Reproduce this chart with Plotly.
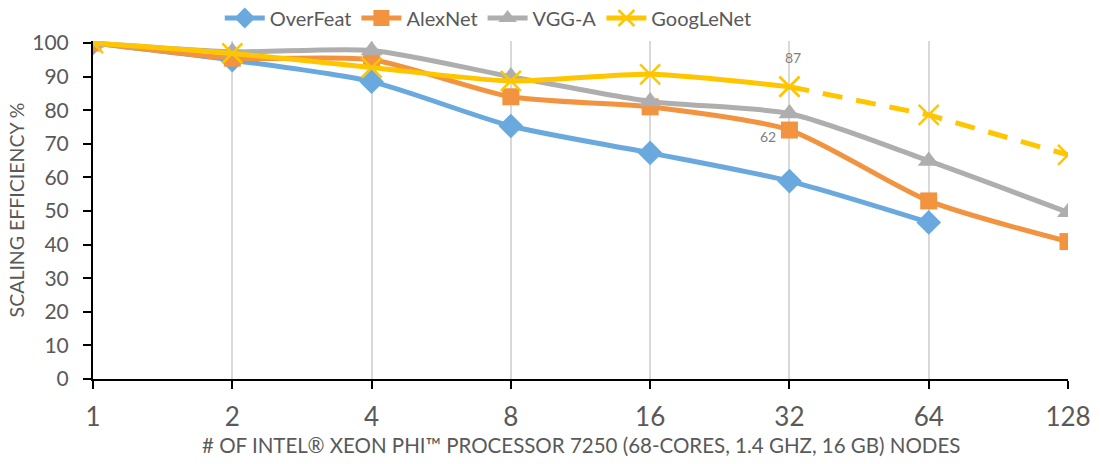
import plotly.graph_objects as go

# Node counts (categorical x axis)
nodes = ["1", "2", "4", "8", "16", "32", "64", "128"]

# Scaling efficiency (%) per network
overfeat = [100, 94.9, 88.5, 75.3, 67.3, 58.9, 46.6]
alexnet = [100, 95.5, 95.0, 84.0, 81.0, 74.1, 53.0, 40.9]
vgg_a = [100, 97.4, 97.8, 90.0, 82.6, 79.0, 64.9, 49.6]
googlenet = [100, 96.9, 92.7, 88.7, 90.7, 87.0, 78.6, 66.7]

# GoogLeNet is measured up to 32 nodes, projected beyond
measured_upto = 6  # index after "32"

# Stray data labels shown on the chart
label_googlenet_32 = "87"
label_alexnet_32 = "62"

x_title = "# OF INTEL® XEON PHI™ PROCESSOR 7250 (68-CORES, 1.4 GHZ, 16 GB) NODES"
y_title = "SCALING EFFICIENCY %"

c_blue = "#6AA9DD"
c_orange = "#F29340"
c_gray = "#AEAEAE"
c_yellow = "#FFC600"
font_family = "Lato, 'Open Sans', sans-serif"
txt = "#595959"

LW = 5
fig = go.Figure()

fig.add_trace(go.Scatter(
    x=nodes[:len(overfeat)], y=overfeat, name="OverFeat", mode="lines+markers",
    line=dict(color=c_blue, width=LW, shape="spline", smoothing=0.7),
    marker=dict(symbol="diamond", size=19, color=c_blue)))

fig.add_trace(go.Scatter(
    x=nodes, y=alexnet, name="AlexNet", mode="lines+markers",
    line=dict(color=c_orange, width=LW, shape="spline", smoothing=0.7),
    marker=dict(symbol="square", size=17, color=c_orange)))

fig.add_trace(go.Scatter(
    x=nodes, y=vgg_a, name="VGG-A", mode="lines+markers",
    line=dict(color=c_gray, width=LW, shape="spline", smoothing=0.7),
    marker=dict(symbol="triangle-up", size=19, color=c_gray)))

fig.add_trace(go.Scatter(
    x=nodes[:measured_upto], y=googlenet[:measured_upto], name="GoogLeNet",
    mode="lines+markers",
    line=dict(color=c_yellow, width=LW, shape="spline", smoothing=0.7),
    marker=dict(symbol="x-thin-open", size=20, color=c_yellow,
                line=dict(color=c_yellow, width=2.5))))

fig.add_trace(go.Scatter(
    x=nodes[measured_upto - 1:], y=googlenet[measured_upto - 1:], name="GoogLeNet",
    mode="lines+markers", showlegend=False,
    line=dict(color=c_yellow, width=LW, dash="20px,14px"),
    marker=dict(symbol="x-thin-open", size=20, color=c_yellow,
                line=dict(color=c_yellow, width=2.5))))

idx32 = nodes.index("32")
fig.add_annotation(x=idx32, y=googlenet[idx32], text=label_googlenet_32, showarrow=False,
                   xshift=4, yshift=29, font=dict(size=14, color="#7F7F7F", family=font_family))
fig.add_annotation(x=idx32, y=alexnet[idx32], text=label_alexnet_32, showarrow=False,
                   xshift=-21, yshift=-6, font=dict(size=14, color="#7F7F7F", family=font_family))

# x-axis title drawn just under the tick labels
fig.add_annotation(x=0.5, y=-66 / 338, xref="paper", yref="paper", text=x_title,
                   showarrow=False, xanchor="center", yanchor="middle",
                   font=dict(size=20.5, color=txt, family=font_family))

fig.update_layout(
    width=1100, height=464,
    margin=dict(l=93, r=32, t=41, b=85, autoexpand=False),
    paper_bgcolor="white", plot_bgcolor="white",
    font=dict(family=font_family, color=txt),
    legend=dict(orientation="h", x=0.13, xanchor="left",
                y=1 - 18 / 464, yref="container", yanchor="middle",
                font=dict(size=20, color=txt), itemwidth=40, tracegroupgap=0),
    showlegend=True,
)

fig.update_xaxes(
    type="category", range=[0, 7],
    showgrid=True, gridcolor="#D9D9D9", gridwidth=1.5,
    showline=True, linecolor="black", linewidth=2,
    ticks="outside", tickcolor="black", ticklen=8, tickwidth=2,
    tickfont=dict(size=26, color=txt), ticklabelstandoff=6,
    zeroline=False,
)

fig.update_yaxes(
    range=[0, 100.6], tickvals=list(range(0, 101, 10)),
    showgrid=False, zeroline=False,
    showline=True, linecolor="black", linewidth=2,
    ticks="outside", tickcolor="black", ticklen=8, tickwidth=2,
    tickfont=dict(size=21, color=txt), ticklabelstandoff=10,
    title=dict(text=y_title, font=dict(size=19.5, color=txt), standoff=2),
)

fig.write_html("out.html")
